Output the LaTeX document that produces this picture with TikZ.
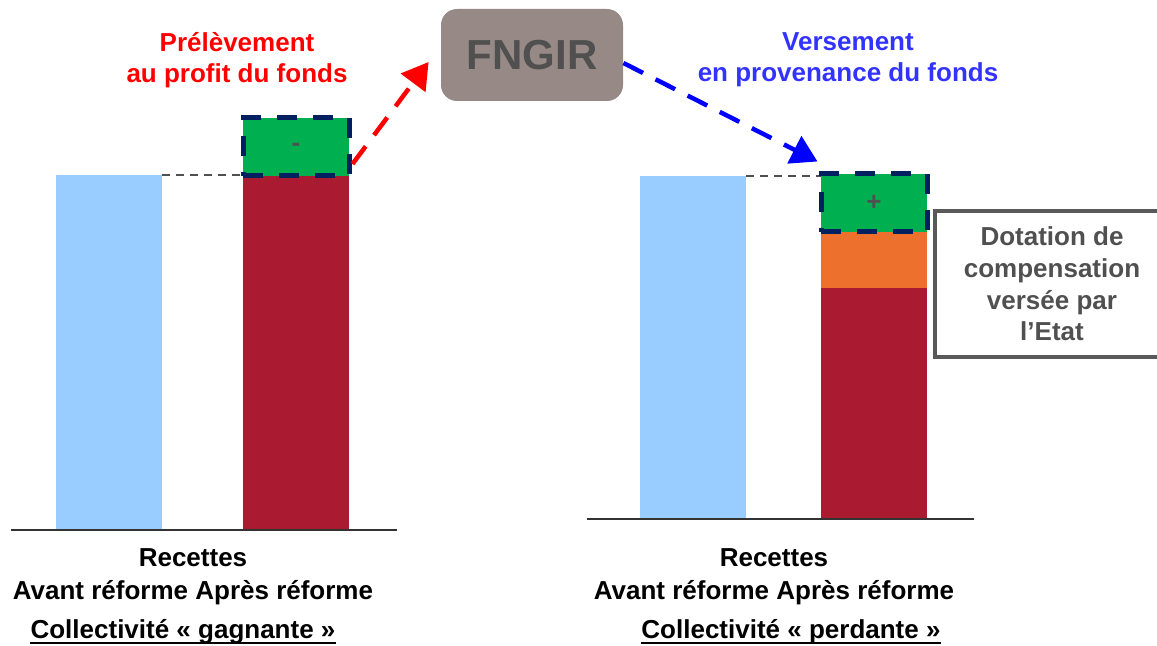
\documentclass[tikz,border=0pt]{standalone}
\usepackage{fontspec}
\setmainfont{Liberation Sans}
\usetikzlibrary{arrows.meta,calc}

\definecolor{barblue}{RGB}{153,204,255}
\definecolor{barred}{RGB}{170,27,50}
\definecolor{bargreen}{RGB}{0,176,80}
\definecolor{barorange}{RGB}{237,112,45}
\definecolor{dashnavy}{RGB}{0,32,96}
\definecolor{fondsgray}{RGB}{151,138,134}
\definecolor{darktext}{RGB}{80,80,80}
\definecolor{boxgray}{RGB}{89,89,89}
\definecolor{textblue}{RGB}{51,51,255}

\tikzset{
    gainbox/.style={fill=bargreen, draw=dashnavy, line width=2.5pt,
                    dash pattern=on 10pt off 8pt, minimum width=53pt,
                    minimum height=29pt, inner sep=0pt, text=darktext},
    levelline/.style={draw=darktext, line width=0.65pt, dash pattern=on 4pt off 3pt},
    axisline/.style={draw=black!80, line width=0.7pt}
}

\begin{document}
\begin{tikzpicture}[x=0.5pt,y=-0.5pt]
\useasboundingbox (0,0) rectangle (1157,646);

% left : collectivite gagnante
\fill[barblue] (56,175) rectangle (162,530);
\fill[barred] (243,176) rectangle (349,530);
\draw[levelline] (162,175) -- (243,175);
\draw[axisline] (11,530) -- (397,530);

% right : collectivite perdante
\fill[barblue] (640,176) rectangle (746,519);
\fill[barred] (821,287) rectangle (927,519);
\fill[barorange] (821,231) rectangle (927,288);
\draw[levelline] (746,176) -- (821,176);
\draw[axisline] (587,519) -- (974,519);

\begin{scope}[every node/.style={font=\bfseries\fontsize{13}{15.5}\selectfont}]
    \node (gainL) at (296,147) [gainbox] {-};
    \node (gainR) at (874,203) [gainbox] {+};

    \node (fngir) at (532,55) [fill=fondsgray, rounded corners=8pt,
        minimum width=91pt, minimum height=46pt, text=darktext,
        font=\bfseries\fontsize{21}{24}\selectfont] {FNGIR};

    \node (dotation) at (1052,284) [draw=boxgray, line width=1.75pt,
        minimum width=117pt, minimum height=73pt, align=center,
        text=darktext, font=\bfseries\fontsize{13}{15.8}\selectfont]
        {Dotation de\\compensation\\versée par\\l’Etat};
\end{scope}

\begin{scope}[>={Triangle[length=13pt,width=15pt]},
              every edge/.style={draw, line width=2.25pt, dash pattern=on 11pt off 7pt}
]
    \path [->] ($(gainL.east)+(1,17)$) edge [draw=red] ($(fngir.west)+(-12,7)$);
    \path [->] ($(fngir.east)+(0,8)$) edge [draw=blue] ($(gainR.north west)+(-1,-10)$);
\end{scope}

\begin{scope}[every node/.style={font=\bfseries\fontsize{13}{16.5}\selectfont,
                                 align=center, inner sep=0pt}]
    \node (prel) at (237,60) [text=red, font=\bfseries\fontsize{13}{15.5}\selectfont]
        {Prélèvement\\au profit du fonds};
    \node (vers) at (848,60) [text=textblue, font=\bfseries\fontsize{13}{15.5}\selectfont]
        {Versement\\en provenance du fonds};

    \node (recL) at (193,577) {Recettes\\Avant réforme Après réforme};
    \node (recR) at (774,577) {Recettes\\Avant réforme Après réforme};

    \node (colL) at (183,638) [anchor=base] {Collectivité « gagnante »};
    \node (colR) at (791,638) [anchor=base] {Collectivité « perdante »};
\end{scope}

\draw[line width=1pt] ($(colL.base west)+(0,5)$) -- ($(colL.base east)+(0,5)$);
\draw[line width=1pt] ($(colR.base west)+(0,5)$) -- ($(colR.base east)+(0,5)$);

\end{tikzpicture}
\end{document}
